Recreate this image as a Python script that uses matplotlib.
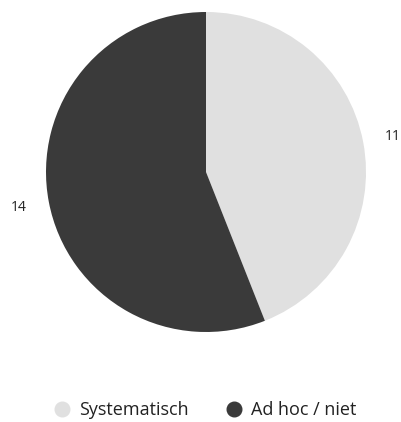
import matplotlib
matplotlib.use("Agg")
import matplotlib.pyplot as plt
from matplotlib.lines import Line2D

categories = ["Systematisch", "Ad hoc / niet"]
values = [11, 14]
colors = ["#e0e0e0", "#3a3a3a"]

plt.rcParams['font.family'] = ['Open Sans', 'DejaVu Sans']

W, H = 402, 422
fig = plt.figure(figsize=(W / 100, H / 100), dpi=100)
ax = fig.add_axes([0, 0, 1, 1])
ax.set_xlim(0, W)
ax.set_ylim(0, H)
ax.set_aspect('equal')
ax.axis('off')

wedges, texts = ax.pie(values, labels=[str(v) for v in values], colors=colors,
                       startangle=90, counterclock=False, center=(206, H - 172),
                       radius=160, labeldistance=1.19,
                       textprops=dict(fontsize=10, color="#222222"),
                       wedgeprops=dict(linewidth=0))
for t in texts:
    t.set_horizontalalignment('center')
    t.set_verticalalignment('center')
ax.set_xlim(0, W)
ax.set_ylim(0, H)

handles = [Line2D([], [], marker='o', linestyle='none', markersize=10.5,
                  markerfacecolor=c, markeredgecolor=c) for c in colors]
fig.legend(handles, categories, loc='center', bbox_to_anchor=(0.51, 1 - 410 / H),
           ncol=2, frameon=False, fontsize=13, handletextpad=0.45, handlelength=1.0,
           columnspacing=2.0, labelcolor="#222222")

fig.savefig("out.png", dpi=100)
